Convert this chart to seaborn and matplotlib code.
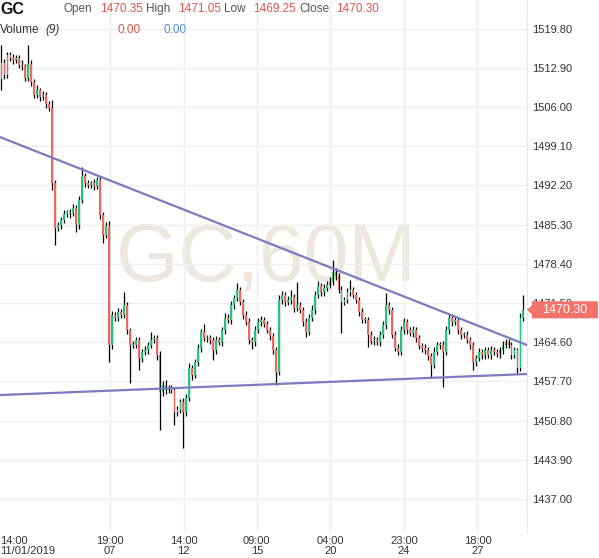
import numpy as np
import pandas as pd
import matplotlib
matplotlib.use("Agg")
import matplotlib.pyplot as plt
import matplotlib.patches as mpatches
from matplotlib.transforms import blended_transform_factory
import seaborn as sns

sns.set_theme(style="white")
plt.rcParams['font.family'] = ['Liberation Sans', 'DejaVu Sans']

# ---------------- data (hourly-ish candles, GC futures) ----------------
first_open = 1511.0
closes = [
    1513.7, 1511.6, 1515.1, 1514.6, 1514.3, 1514.6, 1513.4, 1513.2, 1511.1, 1513.6,
    1510.4, 1508.1, 1509.0, 1507.8, 1508.1, 1506.5, 1505.8, 1492.6, 1484.7, 1485.2,
    1486.1, 1487.2, 1487.5, 1487.3, 1488.2, 1485.2, 1489.6, 1493.8, 1492.6, 1492.3,
    1492.6, 1492.1, 1493.1, 1487.0, 1483.5, 1485.0, 1464.1, 1469.4, 1468.9, 1469.9,
    1469.4, 1471.1, 1466.7, 1464.1, 1464.1, 1465.0, 1461.8, 1462.9, 1463.2, 1464.1,
    1465.0, 1465.3, 1462.3, 1455.8, 1457.1, 1456.2, 1456.5, 1456.2, 1452.3, 1452.7,
    1454.1, 1452.3, 1454.8, 1460.1, 1458.8, 1461.1, 1463.6, 1466.4, 1465.3, 1465.3,
    1465.0, 1463.2, 1465.0, 1464.6, 1466.7, 1468.9, 1468.5, 1471.1, 1472.4, 1473.8,
    1471.7, 1469.4, 1468.2, 1465.0, 1464.6, 1466.7, 1468.2, 1468.5, 1467.8, 1466.7,
    1465.7, 1463.2, 1459.4, 1472.0, 1472.9, 1471.7, 1472.0, 1472.6, 1470.6, 1471.1,
    1470.3, 1468.2, 1466.4, 1468.9, 1470.3, 1472.9, 1474.5, 1473.4, 1474.1, 1474.7,
    1475.2, 1477.0, 1476.2, 1473.8, 1471.7, 1472.0, 1473.4, 1473.8, 1472.9, 1472.0,
    1469.9, 1468.5, 1468.5, 1465.9, 1464.8, 1465.0, 1464.6, 1465.9, 1467.6, 1471.1,
    1470.3, 1465.9, 1463.6, 1462.9, 1466.7, 1468.2, 1466.7, 1466.2, 1466.7, 1465.3,
    1463.9, 1463.6, 1463.2, 1462.2, 1460.6, 1462.9, 1464.1, 1464.1, 1462.9, 1466.7,
    1468.9, 1468.2, 1468.5, 1466.7, 1465.9, 1465.9, 1465.0, 1464.1, 1461.1, 1461.8,
    1462.9, 1462.3, 1463.2, 1462.3, 1463.2, 1462.9, 1462.5, 1463.2, 1464.1, 1464.6,
    1464.1, 1462.3, 1463.2, 1460.1, 1468.9, 1470.3,
]
upper_wicks = [
    3.2, 0.8, 0.6, 0.5, 0.7, 0.6, 0.5, 0.9, 0.4, 3.3,
    0.6, 0.5, 0.8, 0.4, 0.7, 0.5, 0.6, 1.4, 0.5, 0.6,
    0.5, 0.7, 0.4, 0.6, 0.8, 0.5, 0.7, 1.6, 0.5, 0.6,
    0.4, 0.7, 0.5, 0.6, 0.5, 0.8, 0.9, 0.7, 0.6, 0.8,
    0.5, 2.3, 0.6, 0.4, 0.7, 0.5, 0.6, 0.5, 0.8, 0.6,
    1.4, 0.6, 0.5, 0.7, 0.6, 0.8, 0.5, 0.6, 0.4, 0.7,
    0.5, 0.6, 0.7, 0.8, 0.5, 0.6, 0.7, 0.6, 1.4, 0.5,
    0.6, 0.5, 0.7, 0.6, 0.5, 0.8, 0.6, 0.7, 0.5, 1.2,
    0.6, 0.5, 0.7, 0.6, 0.5, 0.8, 0.6, 0.7, 0.5, 0.6,
    0.5, 0.6, 0.5, 0.9, 0.7, 0.6, 0.8, 1.2, 0.5, 4.1,
    0.6, 0.5, 0.7, 0.6, 0.8, 0.7, 0.9, 0.6, 0.7, 0.6,
    0.8, 2.0, 0.6, 0.5, 0.7, 0.6, 0.8, 1.7, 0.5, 0.6,
    0.5, 0.7, 0.6, 0.5, 0.6, 0.7, 0.5, 0.6, 0.8, 2.2,
    0.6, 0.5, 0.7, 0.6, 0.8, 0.7, 0.5, 0.6, 0.7, 0.5,
    0.6, 0.5, 0.7, 0.6, 0.5, 0.8, 0.6, 0.5, 0.7, 0.8,
    0.8, 0.6, 0.7, 0.5, 0.6, 0.5, 0.7, 0.6, 0.5, 0.6,
    0.7, 0.5, 0.6, 0.5, 0.7, 0.6, 0.5, 0.6, 0.7, 0.6,
    0.5, 0.6, 0.5, 0.4, 0.9, 2.6,
]
lower_wicks = [
    2.0, 0.7, 0.5, 0.6, 0.8, 0.5, 0.6, 0.7, 0.5, 0.6,
    0.7, 0.6, 0.5, 0.8, 0.6, 0.7, 0.5, 1.2, 3.0, 0.6,
    0.7, 0.5, 0.6, 0.8, 0.5, 1.2, 0.6, 0.5, 0.7, 0.6,
    0.5, 0.7, 0.6, 0.8, 1.4, 0.6, 3.0, 0.7, 0.6, 0.5,
    0.6, 0.5, 0.7, 6.7, 0.6, 0.5, 2.1, 0.6, 0.5, 0.7,
    0.6, 0.5, 0.8, 6.7, 0.6, 0.7, 0.5, 0.6, 2.3, 0.7,
    0.6, 6.3, 0.7, 0.6, 0.8, 0.5, 0.6, 0.7, 0.5, 0.6,
    0.7, 1.7, 0.6, 0.5, 0.7, 0.6, 0.5, 0.7, 0.6, 0.5,
    0.6, 0.7, 0.5, 0.8, 1.2, 0.6, 0.5, 0.7, 0.6, 0.5,
    0.7, 0.6, 2.3, 0.5, 0.6, 0.7, 0.5, 0.6, 0.7, 0.5,
    0.6, 0.7, 0.9, 0.5, 0.6, 0.7, 0.5, 0.6, 0.7, 0.5,
    0.6, 0.5, 0.7, 0.6, 5.5, 0.6, 0.5, 0.7, 0.6, 0.5,
    0.7, 0.6, 0.5, 2.2, 0.6, 0.7, 0.5, 0.6, 0.5, 0.6,
    0.7, 0.5, 0.6, 0.6, 0.5, 0.7, 0.6, 0.5, 0.7, 0.6,
    0.5, 0.7, 0.6, 0.8, 2.3, 0.6, 0.5, 0.7, 6.2, 0.5,
    0.6, 0.7, 0.5, 0.6, 0.7, 0.5, 0.6, 0.7, 1.4, 0.6,
    0.5, 0.7, 0.6, 0.5, 0.7, 0.6, 0.5, 0.7, 0.6, 0.5,
    0.6, 0.7, 0.5, 1.1, 0.6, 0.5,
]

price_ticks = [1437.00, 1443.90, 1450.80, 1457.70, 1464.60, 1471.50, 1478.40,
               1485.30, 1492.20, 1499.10, 1506.00, 1512.90, 1519.80]
time_tick_pos = [36.4, 61.1, 85.6, 110.2, 134.9, 159.6]
time_tick_labels = ["19:00\n07", "14:00\n12", "09:00\n15", "04:00\n20", "23:00\n24", "18:00\n27"]
first_time_label = "14:00\n11/01/2019"

# trend lines: (bar index, price)
trend_upper_x = [-0.5, 176.2]
trend_upper_y = [1500.7, 1464.1]
trend_lower_x = [-0.5, 176.2]
trend_lower_y = [1455.3, 1459.0]

last_price = 1470.30
ohlc_header = [("Open", "1470.35"), ("High", "1471.05"), ("Low", "1469.25"), ("Close", "1470.30")]
volume_vals = ["0.00", "0.00"]

# ---------------- build frame ----------------
opens = [first_open] + closes[:-1]
df = pd.DataFrame({"open": opens, "close": closes,
                   "uw": upper_wicks, "lw": lower_wicks})
df["idx"] = np.arange(len(df))
df["high"] = df[["open", "close"]].max(axis=1) + df["uw"]
df["low"] = df[["open", "close"]].min(axis=1) - df["lw"]
df["up"] = df["close"] >= df["open"]

GREEN = "#1fc77e"
RED = "#f0675d"

W, H = 599, 558
fig = plt.figure(figsize=(W / 100, H / 100), dpi=100)
fig.patch.set_facecolor("white")
ax = fig.add_axes([0, 1 - 532 / H, 527 / W, 532 / H])
ax.set_facecolor("white")

ax.set_xlim(-0.5, 176.2)
ax.set_ylim(1431.2, 1524.82)

# grid
ax.set_yticks(price_ticks)
ax.set_yticklabels([f"{p:.2f}" for p in price_ticks])
ax.set_xticks(time_tick_pos)
ax.set_xticklabels(time_tick_labels)
ax.grid(True, color="#efefef", lw=1.0, zorder=0)
ax.set_axisbelow(True)

# watermark
ax.text(0.505, 0.513, "GC,60M", transform=ax.transAxes, ha="center", va="center",
        fontsize=58, color="#ede7dd", zorder=0.5)

# candles
ax.vlines(df["idx"], df["low"], df["high"], color="black", lw=0.9, zorder=2)
body_h = (df["close"] - df["open"]).abs().clip(lower=0.15)
body_b = df[["open", "close"]].min(axis=1)
ax.bar(df["idx"], body_h, bottom=body_b, width=0.62,
       color=np.where(df["up"], GREEN, RED), linewidth=0, zorder=3)

# trend lines via seaborn
sns.lineplot(x=trend_upper_x, y=trend_upper_y, ax=ax, color="#7b7bc0", lw=1.6, zorder=4)
sns.lineplot(x=trend_lower_x, y=trend_lower_y, ax=ax, color="#7b7bc0", lw=1.6, zorder=4)
ax.set_xlim(-0.5, 176.2)
ax.set_ylim(1431.2, 1524.82)

# axes styling
for s in ["top", "left", "bottom"]:
    ax.spines[s].set_visible(False)
ax.spines["right"].set_color("#e2e2e2")
ax.spines["right"].set_linestyle((0, (2, 2)))
ax.spines["right"].set_linewidth(0.8)
ax.yaxis.tick_right()
ax.tick_params(axis="y", length=0, pad=4, labelsize=8, labelcolor="#333333")
ax.tick_params(axis="x", length=0, pad=3, labelsize=8, labelcolor="#333333")
for t in ax.get_xticklabels():
    t.set_linespacing(0.95)
ax.text(0.0, -0.008, first_time_label, transform=ax.transAxes, ha="left", va="top",
        fontsize=8, color="#333333", linespacing=0.95)

# last price box
trans = blended_transform_factory(fig.transFigure, ax.transData)
box_h = 3.0
rect = mpatches.FancyBboxPatch((532 / W, last_price - box_h / 2), 66 / W, box_h,
                               boxstyle="round,pad=0,rounding_size=0.004",
                               transform=trans, fc="#f4726a", ec="none",
                               clip_on=False, zorder=10)
fig.patches.append(rect)
tri = mpatches.Polygon([(527 / W, last_price), (532.5 / W, last_price + 0.9),
                        (532.5 / W, last_price - 0.9)], closed=True,
                       transform=trans, fc="#f4726a", ec="none", clip_on=False, zorder=10)
fig.patches.append(tri)
fig.text(565 / W, 0, f"{last_price:.2f}", transform=trans, fontsize=9, color="white",
         ha="center", va="center", zorder=11).set_y(last_price)

# header
def fx(x):
    return x / W

def fy(y):
    return 1 - y / H

fig.text(fx(0), fy(9), "GC", fontsize=11.5, fontweight="bold", color="#111111", va="center")
label_x = [63, 146, 224, 299]
value_x = [100, 178, 253, 336]
for (lab, val), lx, vx in zip(ohlc_header, label_x, value_x):
    fig.text(fx(lx), fy(9), lab, fontsize=8.5, color="#555555", va="center")
    fig.text(fx(vx), fy(9), val, fontsize=8.5, color="#e5534b", va="center")
fig.text(fx(0), fy(30), "Volume", fontsize=8.5, color="#333333", va="center")
fig.text(fx(45), fy(30), "(9)", fontsize=8.5, color="#333333", va="center", style="italic")
fig.text(fx(117), fy(30), volume_vals[0], fontsize=8.5, color="#e5534b", va="center")
fig.text(fx(163), fy(30), volume_vals[1], fontsize=8.5, color="#4a8fe0", va="center")

fig.savefig("out.png", dpi=100, facecolor="white")
